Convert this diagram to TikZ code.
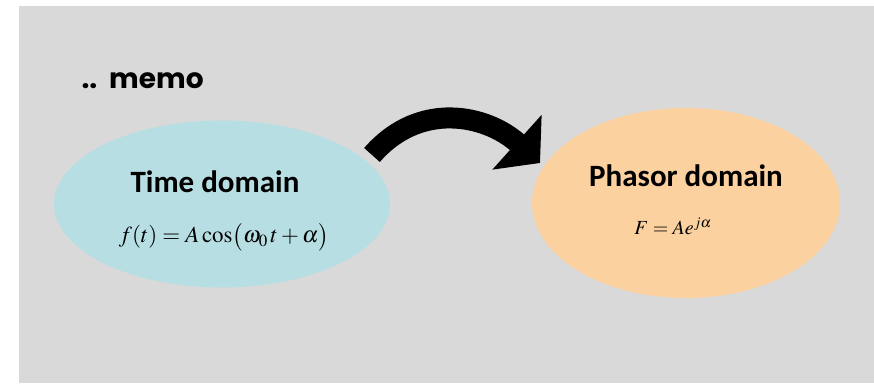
\documentclass[tikz,border=0pt]{standalone}
\usepackage{mathptmx}
\usepackage{fontspec}
\setmainfont{Carlito}
\newfontfamily\memofont{Poppins}
\usepackage{tikz}
\usetikzlibrary{positioning,arrows.meta,shapes.geometric}
\definecolor{backgr}{RGB}{217,217,217}
\definecolor{timecol}{RGB}{183,222,227}
\definecolor{phasorcol}{RGB}{251,209,160}
\tikzset{
  domainbox/.style={ellipse, inner sep=0pt},
  titletext/.style={font=\fontsize{31}{34}\selectfont\bfseries, anchor=base},
  formula/.style={font=\fontsize{23}{26}\selectfont}
}

\begin{document}
\begin{tikzpicture}[x=1pt,y=1pt]
  \useasboundingbox (0,0) rectangle (874,383);
  \fill[backgr] (19,0) rectangle (874,377);
  \node[font=\memofont\fontsize{28}{30}\selectfont\bfseries, anchor=base west] (memo) at (78,294) {..\ \ memo};
  % the two domains
  \node[domainbox, fill=timecol, minimum width=336, minimum height=167] (time) at (222,179) {};
  \node[domainbox, fill=phasorcol, minimum width=308, minimum height=190] (phasor) at (686,180) {};
  \node[titletext] (timetitle) at (215,190) {Time domain};
  \node[titletext] (phasortitle) at (686,196) {Phasor domain};
  \node[formula] (timeeq) at (224,146) {$f(t)=A\cos\bigl(\omega_0\, t+\alpha\bigr)$};
  \node[formula, font=\fontsize{20}{24}\selectfont] (phasoreq) at (673,157) {$F=Ae^{j\alpha}$};
  % curved arrow
  \coordinate (arrtail) at (372,228);
  \coordinate (arrtip) at (540,220);
  \draw[line width=21, -{Triangle[width=72,length=31]}]
    (arrtail) to[out=49, in=138, looseness=1.1] (arrtip);
\end{tikzpicture}
\end{document}
